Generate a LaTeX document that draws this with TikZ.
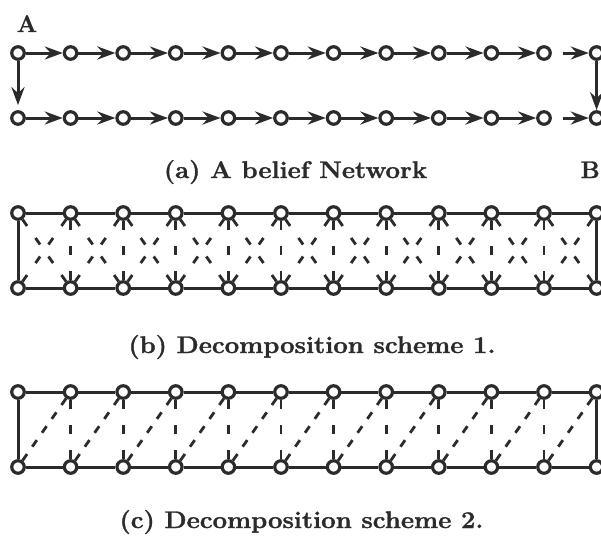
\documentclass[tikz,border=0pt]{standalone}
\usepackage{graphicx}
\usepackage{fontspec}
\setmainfont{Latin Modern Roman}[BoldFeatures={FakeBold=1.2}]
\usetikzlibrary{arrows.meta}
\definecolor{ink}{HTML}{2B2B2B}
\begin{document}
\begin{tikzpicture}[x=1pt,y=-1pt,
  nd/.style={circle,draw=ink,fill=white,line width=3.2pt,minimum size=12.5pt,inner sep=0pt},
  arr/.style={draw=ink,line width=3pt,-{Stealth[length=18pt,width=13pt,inset=6pt]}},
  solidln/.style={draw=ink,line width=3pt},
  dgb/.style={draw=ink,line width=2.8pt,dash pattern=on 8pt off 14.63pt},
  dgc/.style={draw=ink,line width=2.8pt,dash pattern=on 8pt off 8.98pt},
  vd/.style={draw=ink,line width=2.8pt,dash pattern=on 9pt off 16.15pt},
  captxt/.style={text=ink,font=\fontsize{24}{28}\selectfont\bfseries,anchor=base,inner sep=0pt}
]
\useasboundingbox (0,0) rectangle (601,535);
\fill[white] (0,0) rectangle (601,535);

% nodes
\foreach \i in {0,...,11} {
  \pgfmathsetmacro\xx{18+52.6*\i}
  \node[nd] (at\i) at (\xx,53) {};
  \node[nd] (ab\i) at (\xx,118) {};
  \node[nd] (bt\i) at (\xx,213) {};
  \node[nd] (bb\i) at (\xx,288) {};
  \node[nd] (ct\i) at (\xx,392) {};
  \node[nd] (cb\i) at (\xx,467) {};
}

% (a) belief network
\foreach \i [evaluate=\i as \j using int(\i+1)] in {0,...,9} {
  \draw[arr] (at\i) -- (at\j);
  \draw[arr] (ab\i) -- (ab\j);
}
\draw[arr,shorten <=11pt] (at10) -- (at11);
\draw[arr,shorten <=11pt] (ab10) -- (ab11);
\draw[arr,shorten >=5pt] (at0) -- (ab0);
\draw[arr] (at11) -- (ab11);

% (b) decomposition scheme 1
\foreach \i [evaluate=\i as \j using int(\i+1)] in {0,...,10} {
  \draw[solidln] (bt\i) -- (bt\j);
  \draw[solidln] (bb\i) -- (bb\j);
  \draw[dgb] (bt\i) -- (bb\j);
  \draw[dgb] (bb\i) -- (bt\j);
}
\foreach \i in {1,...,10} { \draw[vd] (bt\i) -- (bb\i); }
\draw[solidln] (bt0) -- (bb0);
\draw[solidln] (bt11) -- (bb11);

% (c) decomposition scheme 2
\foreach \i [evaluate=\i as \j using int(\i+1)] in {0,...,10} {
  \draw[solidln] (ct\i) -- (ct\j);
  \draw[solidln] (cb\i) -- (cb\j);
  \draw[dgc] (cb\i) -- (ct\j);
}
\foreach \i in {1,...,10} { \draw[vd] (ct\i) -- (cb\i); }
\draw[solidln] (ct0) -- (cb0);
\draw[solidln] (ct11) -- (cb11);

% labels
\node[captxt] (la) at (27,32) {A};
\node[captxt,anchor=base east] (lb) at (600,178) {B};
\node[captxt] (capa) at (295.5,178) {\scalebox{1.07}[1]{(a) A belief Network}};
\node[captxt] (capb) at (312,353) {\scalebox{1.07}[1]{(b) Decomposition scheme 1.}};
\node[captxt] (capc) at (301.5,528) {\scalebox{1.07}[1]{(c) Decomposition scheme 2.}};
\end{tikzpicture}
\end{document}
